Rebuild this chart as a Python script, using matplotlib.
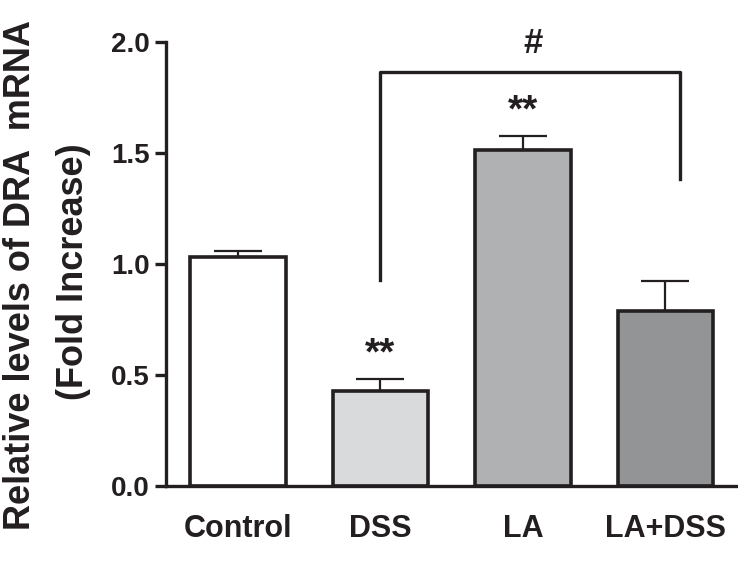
import matplotlib.pyplot as plt

# data
groups = ['Control', 'DSS', 'LA', 'LA+DSS']
means = [1.03, 0.43, 1.515, 0.79]
sems = [0.03, 0.05, 0.06, 0.135]
fills = ['#ffffff', '#d9dadb', '#b0b1b3', '#939496']
stars = ['', '**', '**', '']

# bracket DSS vs LA+DSS
bracket_x = [1, 3.1]
bracket_top = 1.865
bracket_legs = [0.93, 1.385]

ink = '#231f20'
plt.rcParams['font.family'] = ['Liberation Sans', 'DejaVu Sans']
plt.rcParams['font.weight'] = 'bold'

fig = plt.figure(figsize=(7.38, 5.66), dpi=100)
ax = fig.add_axes([0.225, 0.1413, 0.775, 0.7845])

x = range(len(groups))
ax.bar(x, means, width=0.67, color=fills, edgecolor=ink, linewidth=2.6, zorder=2)
ax.errorbar(x, means, yerr=[[0] * len(sems), sems], fmt='none', ecolor=ink,
            elinewidth=1.6, capsize=17, capthick=1.6, zorder=1)

for i, s in enumerate(stars):
    if s:
        ax.text(i, means[i] + sems[i] + 0.03, s, ha='center', va='bottom',
                fontsize=28, fontweight='bold', color=ink)

# significance bracket
ax.plot([bracket_x[0], bracket_x[0], bracket_x[1], bracket_x[1]],
        [bracket_legs[0], bracket_top, bracket_top, bracket_legs[1]],
        color=ink, linewidth=2.4, clip_on=False)
ax.text(2.07, 1.995, '#', ha='center', va='center',
        fontsize=25, fontweight='bold', color=ink, clip_on=False)

ax.set_xlim(-0.505, 3.51)
ax.set_ylim(0, 2.0)
ax.set_yticks([0.0, 0.5, 1.0, 1.5, 2.0])
ax.set_yticklabels(['0.0', '0.5', '1.0', '1.5', '2.0'])
ax.set_xticks(list(x))
ax.set_xticklabels(groups, fontsize=22, fontweight='bold', color=ink)
ax.tick_params(axis='x', length=0, pad=20)
ax.tick_params(axis='y', length=8, width=2.4, labelsize=20, pad=4, colors=ink)

for side in ['top', 'right']:
    ax.spines[side].set_visible(False)
for side in ['left', 'bottom']:
    ax.spines[side].set_linewidth(2.4)
    ax.spines[side].set_color(ink)

# two-line y label, placed as figure text so the long first line can run the full height
fig.text(0.028, 0.515, 'Relative levels of DRA  mRNA', rotation=90, ha='center',
         va='center', fontsize=26, fontweight='bold', color=ink)
fig.text(0.100, 0.52, '(Fold Increase)', rotation=90, ha='center',
         va='center', fontsize=26, fontweight='bold', color=ink)

fig.savefig('out.png', dpi=100)
